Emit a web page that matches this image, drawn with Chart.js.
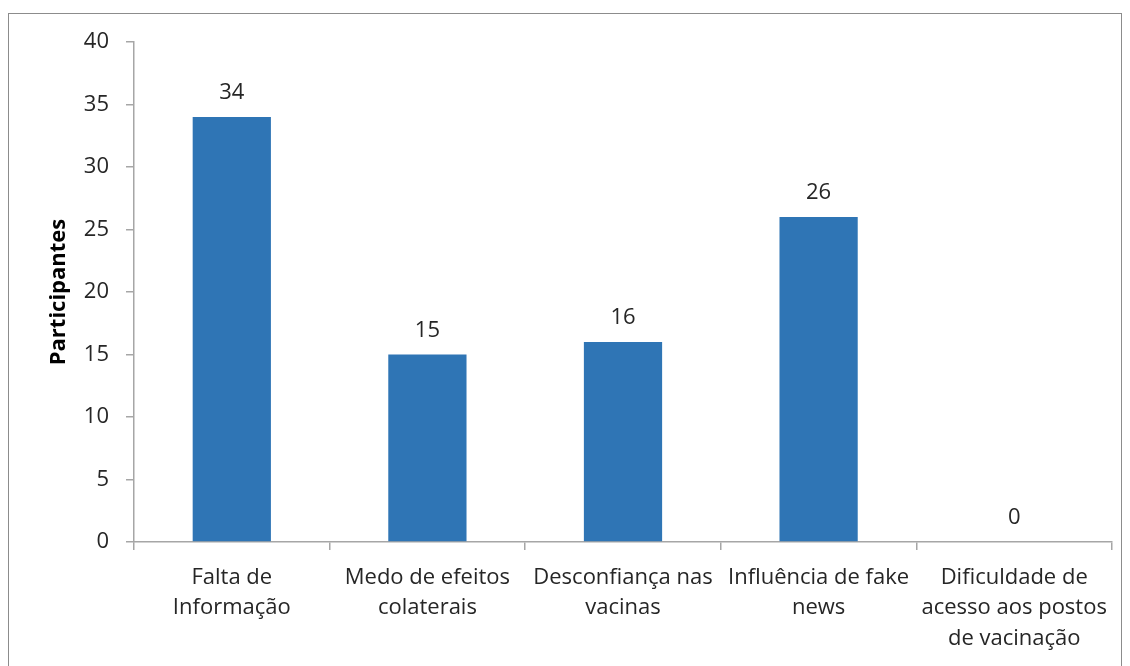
<!DOCTYPE html>
<html>
<head>
<meta charset="utf-8">
<script src="https://cdn.jsdelivr.net/npm/chart.js@4.4.1/dist/chart.umd.min.js"></script>
<style>
  html, body { margin: 0; padding: 0; background: #fff; overflow: hidden; }
  #bars { display: block; width: 1130px; height: 666px; }
</style>
</head>
<body>
<canvas id="bars" width="1130" height="666"></canvas>
<script>
// categorias e valores
var categories = [
  ['Falta de', 'Informação'],
  ['Medo de efeitos', 'colaterais'],
  ['Desconfiança nas', 'vacinas'],
  ['Influência de fake', 'news'],
  ['Dificuldade de', 'acesso aos postos', 'de vacinação']
];
var participantes = [34, 15, 16, 26, 0];
var yTicks = [0, 5, 10, 15, 20, 25, 30, 35, 40];

var axisGray = '#A6A6A6';
var textColor = '#262626';
var fontFamily = '"Open Sans", "Noto Sans", sans-serif';

// moldura em volta do gráfico
const framePlugin = {
  id: 'frame',
  beforeDraw: (chart) => {
    const ctx = chart.ctx;
    ctx.save();
    ctx.strokeStyle = '#8C8C8C';
    ctx.lineWidth = 1;
    ctx.strokeRect(8.5, 13.5, chart.width - 17, chart.height);
    ctx.restore();
  }
};

// rótulos dos valores acima das barras
const valueLabels = {
  id: 'valueLabels',
  afterDatasetsDraw: (chart) => {
    const ctx = chart.ctx;
    const meta = chart.getDatasetMeta(0);
    ctx.save();
    ctx.font = '22px ' + fontFamily;
    ctx.fillStyle = textColor;
    ctx.textAlign = 'center';
    ctx.textBaseline = 'bottom';
    meta.data.forEach((bar, i) => {
      ctx.fillText(String(chart.data.datasets[0].data[i]), bar.x, bar.y - 13);
    });
    ctx.restore();
  }
};

var ctx = document.getElementById('bars').getContext('2d');
var myChart = new Chart(ctx, {
  type: 'bar',
  data: {
    labels: categories,
    datasets: [{
      label: 'Participantes',
      data: participantes,
      backgroundColor: '#2F75B5',
      borderWidth: 0,
      categoryPercentage: 1.0,
      barPercentage: 0.4
    }]
  },
  options: {
    responsive: false,
    animation: false,
    devicePixelRatio: 1,
    layout: { padding: { top: 42, right: 18, left: 0, bottom: 0 } },
    plugins: {
      legend: { display: false },
      tooltip: { enabled: false }
    },
    scales: {
      x: {
        grid: {
          display: true,
          drawOnChartArea: false,
          drawTicks: true,
          tickLength: 8,
          color: axisGray,
          lineWidth: 1.5
        },
        border: { display: true, color: axisGray, width: 1.5 },
        ticks: {
          color: textColor,
          maxRotation: 0,
          autoSkip: false,
          padding: 13,
          font: { family: fontFamily, size: 22, lineHeight: 1.37 }
        },
        afterFit: (scale) => { scale.height = 124; }
      },
      y: {
        min: 0,
        max: 40,
        afterBuildTicks: (scale) => {
          scale.ticks = yTicks.map(v => ({ value: v }));
        },
        grid: {
          display: true,
          drawOnChartArea: false,
          drawTicks: true,
          tickLength: 8,
          color: axisGray,
          lineWidth: 1.5
        },
        border: { display: true, color: axisGray, width: 1.5 },
        ticks: {
          color: textColor,
          padding: 17,
          font: { family: fontFamily, size: 22 }
        },
        title: {
          display: true,
          text: 'Participantes',
          color: '#000',
          padding: { top: 46, bottom: 0 },
          font: { family: fontFamily, size: 22, weight: 'bold' }
        },
        afterFit: (scale) => { scale.width = 134; }
      }
    }
  },
  plugins: [framePlugin, valueLabels]
});
</script>
</body>
</html>
